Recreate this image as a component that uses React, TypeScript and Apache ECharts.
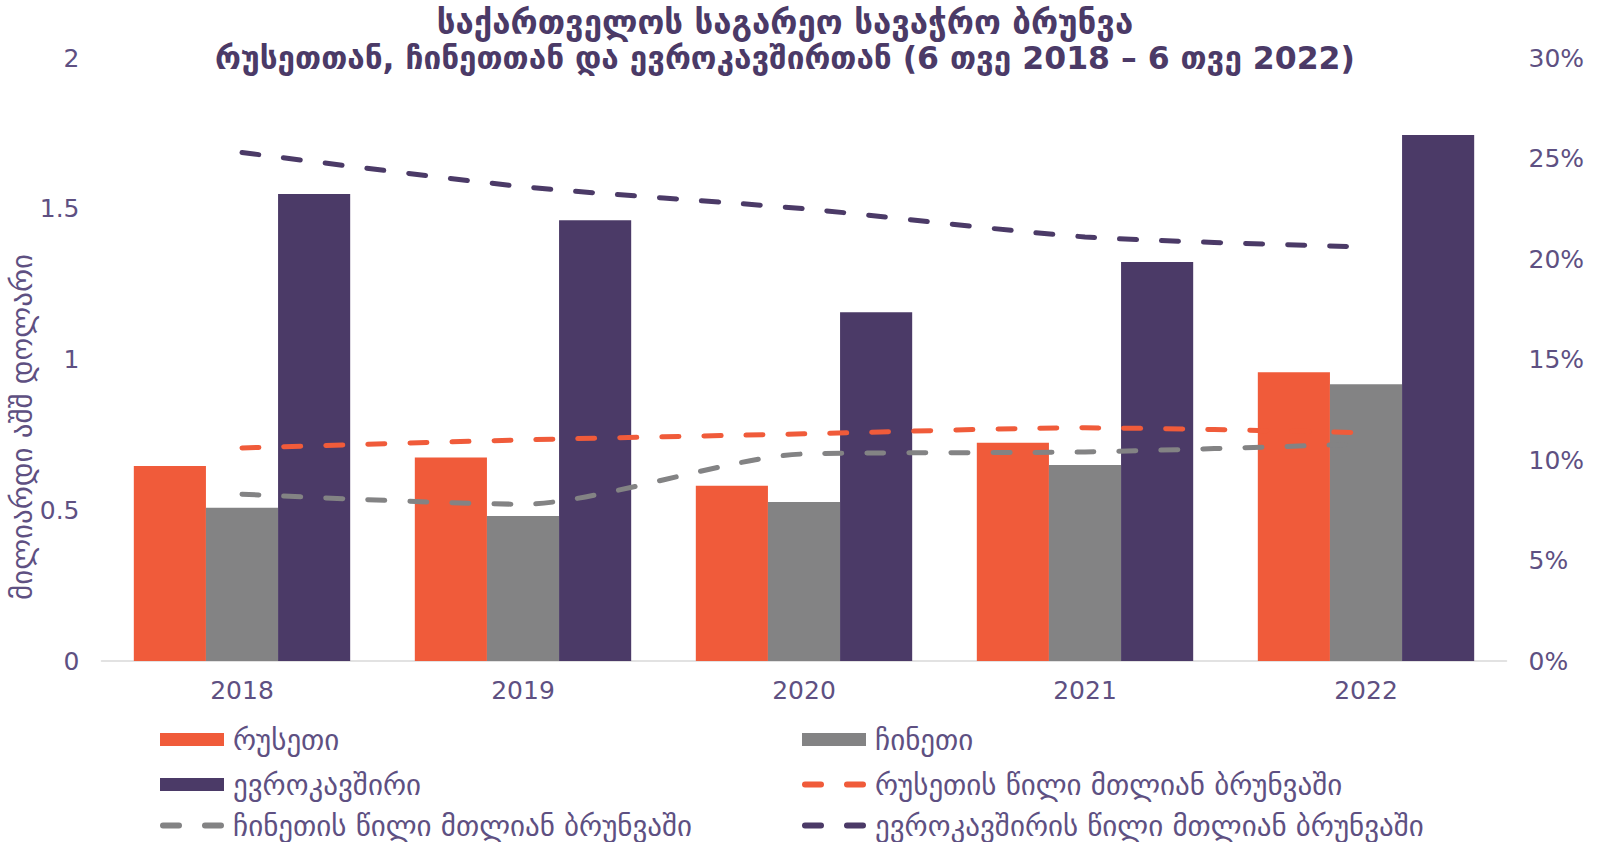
import React, { useEffect, useRef } from "react";
import * as echarts from "echarts";

const categories = ["2018", "2019", "2020", "2021", "2022"];
const russia = [0.647, 0.675, 0.581, 0.724, 0.958];
const china = [0.508, 0.481, 0.527, 0.65, 0.918];
const eu = [1.549, 1.462, 1.157, 1.323, 1.745];
const russiaShare = [10.6, 11.0, 11.3, 11.6, 11.35];
const chinaShare = [8.3, 7.8, 10.3, 10.4, 10.8];
const euShare = [25.3, 23.6, 22.5, 21.1, 20.6];

const leftTicks = [0, 0.5, 1, 1.5, 2];
const rightTicks = [0, 5, 10, 15, 20, 25, 30];

const names = {
  russia: "რუსეთი",
  china: "ჩინეთი",
  eu: "ევროკავშირი",
  russiaShare: "რუსეთის წილი მთლიან ბრუნვაში",
  chinaShare: "ჩინეთის წილი მთლიან ბრუნვაში",
  euShare: "ევროკავშირის წილი მთლიან ბრუნვაში",
};
const titleLines = [
  "საქართველოს საგარეო სავაჭრო ბრუნვა",
  "რუსეთთან, ჩინეთთან და ევროკავშირთან (6 თვე 2018 – 6 თვე 2022)",
];
const yAxisTitle = "მილიარდი აშშ დოლარი";

const C_RU = "#F05B3A";
const C_CN = "#838384";
const C_EU = "#4B3A67";
const C_TEXT = "#5E5082";
const FONT = "DejaVu Sans";

const DASH_ICON =
  "path://M3,0 H19 A3,3 0 0 1 19,6 H3 A3,3 0 0 1 3,0 Z M45,0 H61 A3,3 0 0 1 61,6 H45 A3,3 0 0 1 45,0 Z";

export default function App() {
  const ref = useRef<HTMLDivElement>(null);
  useEffect(() => {
    const chart = echarts.init(ref.current!, null, { renderer: "svg" });
    const dashed = (color: string) => ({
      color,
      width: 5,
      type: [17, 25] as any,
      cap: "round" as any,
    });
    const legendLayout = [
      { name: names.russia, left: 160, top: 725, line: false },
      { name: names.china, left: 802, top: 725, line: false },
      { name: names.eu, left: 160, top: 770, line: false },
      { name: names.russiaShare, left: 802, top: 770, line: true },
      { name: names.chinaShare, left: 160, top: 811, line: true },
      { name: names.euShare, left: 802, top: 811, line: true },
    ];
    const titleY = [22.5, 58];
    chart.setOption({
      animation: false,
      textStyle: { fontFamily: FONT },
      legend: legendLayout.map((l) => ({
        data: [l.line ? { name: l.name, icon: DASH_ICON } : { name: l.name, icon: "rect" }],
        left: l.left,
        top: l.top,
        padding: 0,
        itemWidth: 64,
        itemHeight: l.line ? 6 : 13,
        itemGap: 10,
        textStyle: {
          fontFamily: FONT,
          fontSize: 29,
          color: C_TEXT,
          padding: [0, 0, 0, 4],
        },
      })),
      graphic: [
        ...titleLines.map((t, i) => ({
          type: "text",
          x: 785,
          y: titleY[i],
          style: {
            text: t,
            fontFamily: FONT,
            fontSize: i === 0 ? 33 : 31.5,
            fontWeight: "bold",
            fill: C_EU,
            align: "center",
            verticalAlign: "middle",
          },
        })),
        {
          type: "text",
          x: 22,
          y: 427,
          rotation: Math.PI / 2,
          style: {
            text: yAxisTitle,
            fontFamily: FONT,
            fontSize: 29,
            fill: C_TEXT,
            align: "center",
            verticalAlign: "middle",
          },
        },
      ],
      grid: { left: 101.5, right: 95.5, top: 58, bottom: 181 },
      xAxis: {
        type: "category",
        data: categories,
        axisLine: { lineStyle: { color: "#D9D9D9", width: 1.5 } },
        axisTick: { show: false },
        axisLabel: { fontSize: 25, color: C_TEXT, margin: 17, fontFamily: FONT },
      },
      yAxis: [
        {
          type: "value",
          min: leftTicks[0],
          max: leftTicks[leftTicks.length - 1],
          interval: 0.5,
          splitLine: { show: false },
          axisLine: { show: false },
          axisTick: { show: false },
          axisLabel: { fontSize: 25, color: C_TEXT, margin: 22, fontFamily: FONT },
        },
        {
          type: "value",
          min: rightTicks[0],
          max: rightTicks[rightTicks.length - 1],
          interval: 5,
          splitLine: { show: false },
          axisLine: { show: false },
          axisTick: { show: false },
          axisLabel: {
            fontSize: 25,
            color: C_TEXT,
            margin: 22,
            fontFamily: FONT,
            formatter: "{value}%",
          },
        },
      ],
      series: [
        {
          name: names.russia,
          type: "bar",
          data: russia,
          itemStyle: { color: C_RU },
          barGap: "0%",
          barCategoryGap: "23%",
        },
        {
          name: names.china,
          type: "bar",
          data: china,
          itemStyle: { color: C_CN },
        },
        {
          name: names.eu,
          type: "bar",
          data: eu,
          itemStyle: { color: C_EU },
        },
        {
          name: names.russiaShare,
          type: "line",
          yAxisIndex: 1,
          data: russiaShare,
          smooth: 0.25,
          symbol: "none",
          lineStyle: dashed(C_RU),
          itemStyle: { color: C_RU },
        },
        {
          name: names.chinaShare,
          type: "line",
          yAxisIndex: 1,
          data: chinaShare,
          smooth: 0.25,
          symbol: "none",
          lineStyle: dashed(C_CN),
          itemStyle: { color: C_CN },
        },
        {
          name: names.euShare,
          type: "line",
          yAxisIndex: 1,
          data: euShare,
          smooth: 0.25,
          symbol: "none",
          lineStyle: dashed(C_EU),
          itemStyle: { color: C_EU },
        },
      ],
    });
    return () => chart.dispose();
  }, []);
  return (
    <div
      ref={ref}
      style={{ position: "fixed", left: 0, top: 0, width: 1602, height: 842, background: "#fff" }}
    />
  );
}
